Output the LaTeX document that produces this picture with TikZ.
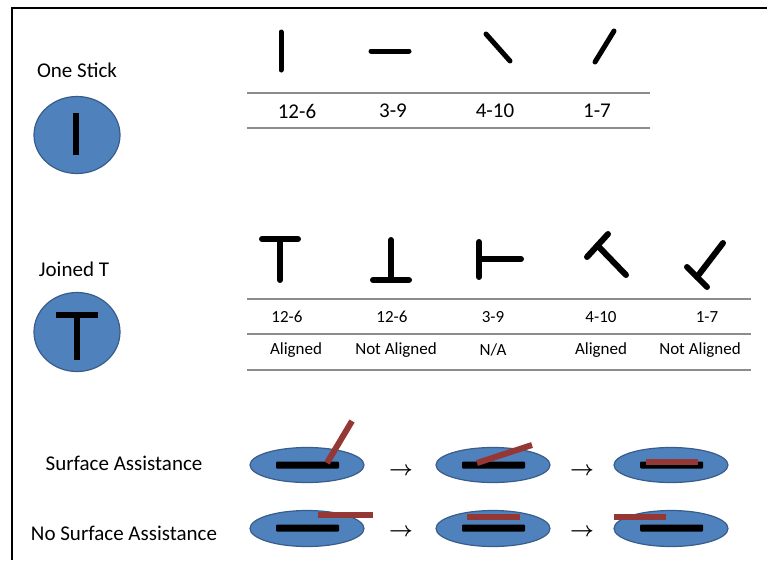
\documentclass[tikz,border=0pt]{standalone}
\usepackage{fontspec}
\setmainfont{Carlito}
\definecolor{oblue}{HTML}{4F81BD}
\definecolor{oborder}{HTML}{385D8A}
\definecolor{ored}{HTML}{953735}
\definecolor{rulegray}{HTML}{8C8C8C}
\begin{document}
\begin{tikzpicture}[x=1pt,y=-1pt,
  lbl/.style={font=\fontsize{21}{24}\selectfont, inner sep=0},
  tlbl/.style={font=\fontsize{17}{20}\selectfont, inner sep=0},
  stick/.style={line width=5pt, line cap=round},
  tbar/.style={line width=6pt, line cap=round},
  inbar/.style={line width=5.5pt},
  disc/.style={fill=oblue, draw=oborder, line width=1.2pt},
  blackbar/.style={fill=black, rounded corners=1pt},
  redbar/.style={fill=ored},
  redstick/.style={draw=ored, line width=6pt},
  hrule/.style={draw=rulegray, line width=1.5pt},
  arr/.style={font=\fontsize{22}{22}\selectfont\boldmath, inner sep=0}]
\useasboundingbox[fill=white] (0,0) rectangle (767,560);
\draw[line width=2pt] (767,8) -- (12,8) -- (12,560);

% ---- One Stick ----
\node[lbl] (onestick) at (77,70) {One Stick};
\draw[disc] (77,135) ellipse [x radius=43, y radius=38.5];
\draw[inbar] (76,113) -- (76,155);

\draw[stick] (281,32) -- (281,70);
\draw[stick] (371,51) -- (409,51);
\draw[stick] (486,34) -- (510,61);
\draw[stick] (614,31) -- (595,62);

\draw[hrule] (247,93) -- (650,93);
\draw[hrule] (247,128) -- (650,128);
\node[lbl] (r1a) at (297,111) {12-6};
\node[lbl] (r1b) at (393,111) {3-9};
\node[lbl] (r1c) at (495,111) {4-10};
\node[lbl] (r1d) at (597,111) {1-7};

% ---- Joined T ----
\node[lbl] (joinedt) at (74,269) {Joined T};
\draw[disc] (77,332) ellipse [x radius=43, y radius=39.5];
\draw[inbar] (56,315) -- (98,315);
\draw[inbar] (77,315) -- (77,360);

\draw[tbar] (262,239) -- (298,239);
\draw[tbar] (280,239) -- (280,280);
\draw[tbar] (391,240) -- (391,280);
\draw[tbar] (373,280) -- (409,280);
\draw[tbar] (479,242) -- (479,277);
\draw[tbar] (479,259) -- (521,259);
\draw[tbar] (587,257) -- (608,234);
\draw[tbar] (597.5,245.5) -- (626,275);
\draw[tbar] (687,267) -- (707,287);
\draw[tbar] (697,277) -- (723,243);

\draw[hrule] (247,299) -- (751,299);
\draw[hrule] (247,334) -- (751,334);
\draw[hrule] (247,370) -- (751,370);
\node[tlbl] (n1) at (287,317) {12-6};
\node[tlbl] (n2) at (392,317) {12-6};
\node[tlbl] (n3) at (493,317) {3-9};
\node[tlbl] (n4) at (601,317) {4-10};
\node[tlbl] (n5) at (707,317) {1-7};
\node[tlbl] (s1) at (296,350) {Aligned};
\node[tlbl] (s2) at (396,350) {Not Aligned};
\node[tlbl] (s3) at (493,350) {N/A};
\node[tlbl] (s4) at (601,350) {Aligned};
\node[tlbl] (s5) at (700,350) {Not Aligned};

% ---- Surface assistance ----
\node[lbl] (sa) at (124,463) {Surface Assistance};
\node[lbl] (nsa) at (124,533) {No Surface Assistance};

\foreach \cx in {307,493,671}{
  \draw[disc] (\cx,465) ellipse [x radius=57, y radius=17.5];
  \draw[disc] (\cx,528.5) ellipse [x radius=57, y radius=18];
  \fill[blackbar] (\cx-31,461.5) rectangle (\cx+32,468.5);
  \fill[blackbar] (\cx-31,524.5) rectangle (\cx+32,531.5);
}
\draw[redstick] (327,463) -- (352,421);
\draw[redstick] (477,463) -- (532,445);
\fill[redbar] (646,459) rectangle (698,465);
\fill[redbar] (318,512) rectangle (373,518);
\fill[redbar] (467,514) rectangle (520,520);
\fill[redbar] (614,514) rectangle (666,520);

\node[arr] (a1) at (401,471) {$\rightarrow$};
\node[arr] (a2) at (582,471) {$\rightarrow$};
\node[arr] (a3) at (401,532) {$\rightarrow$};
\node[arr] (a4) at (582,532) {$\rightarrow$};
\end{tikzpicture}
\end{document}
